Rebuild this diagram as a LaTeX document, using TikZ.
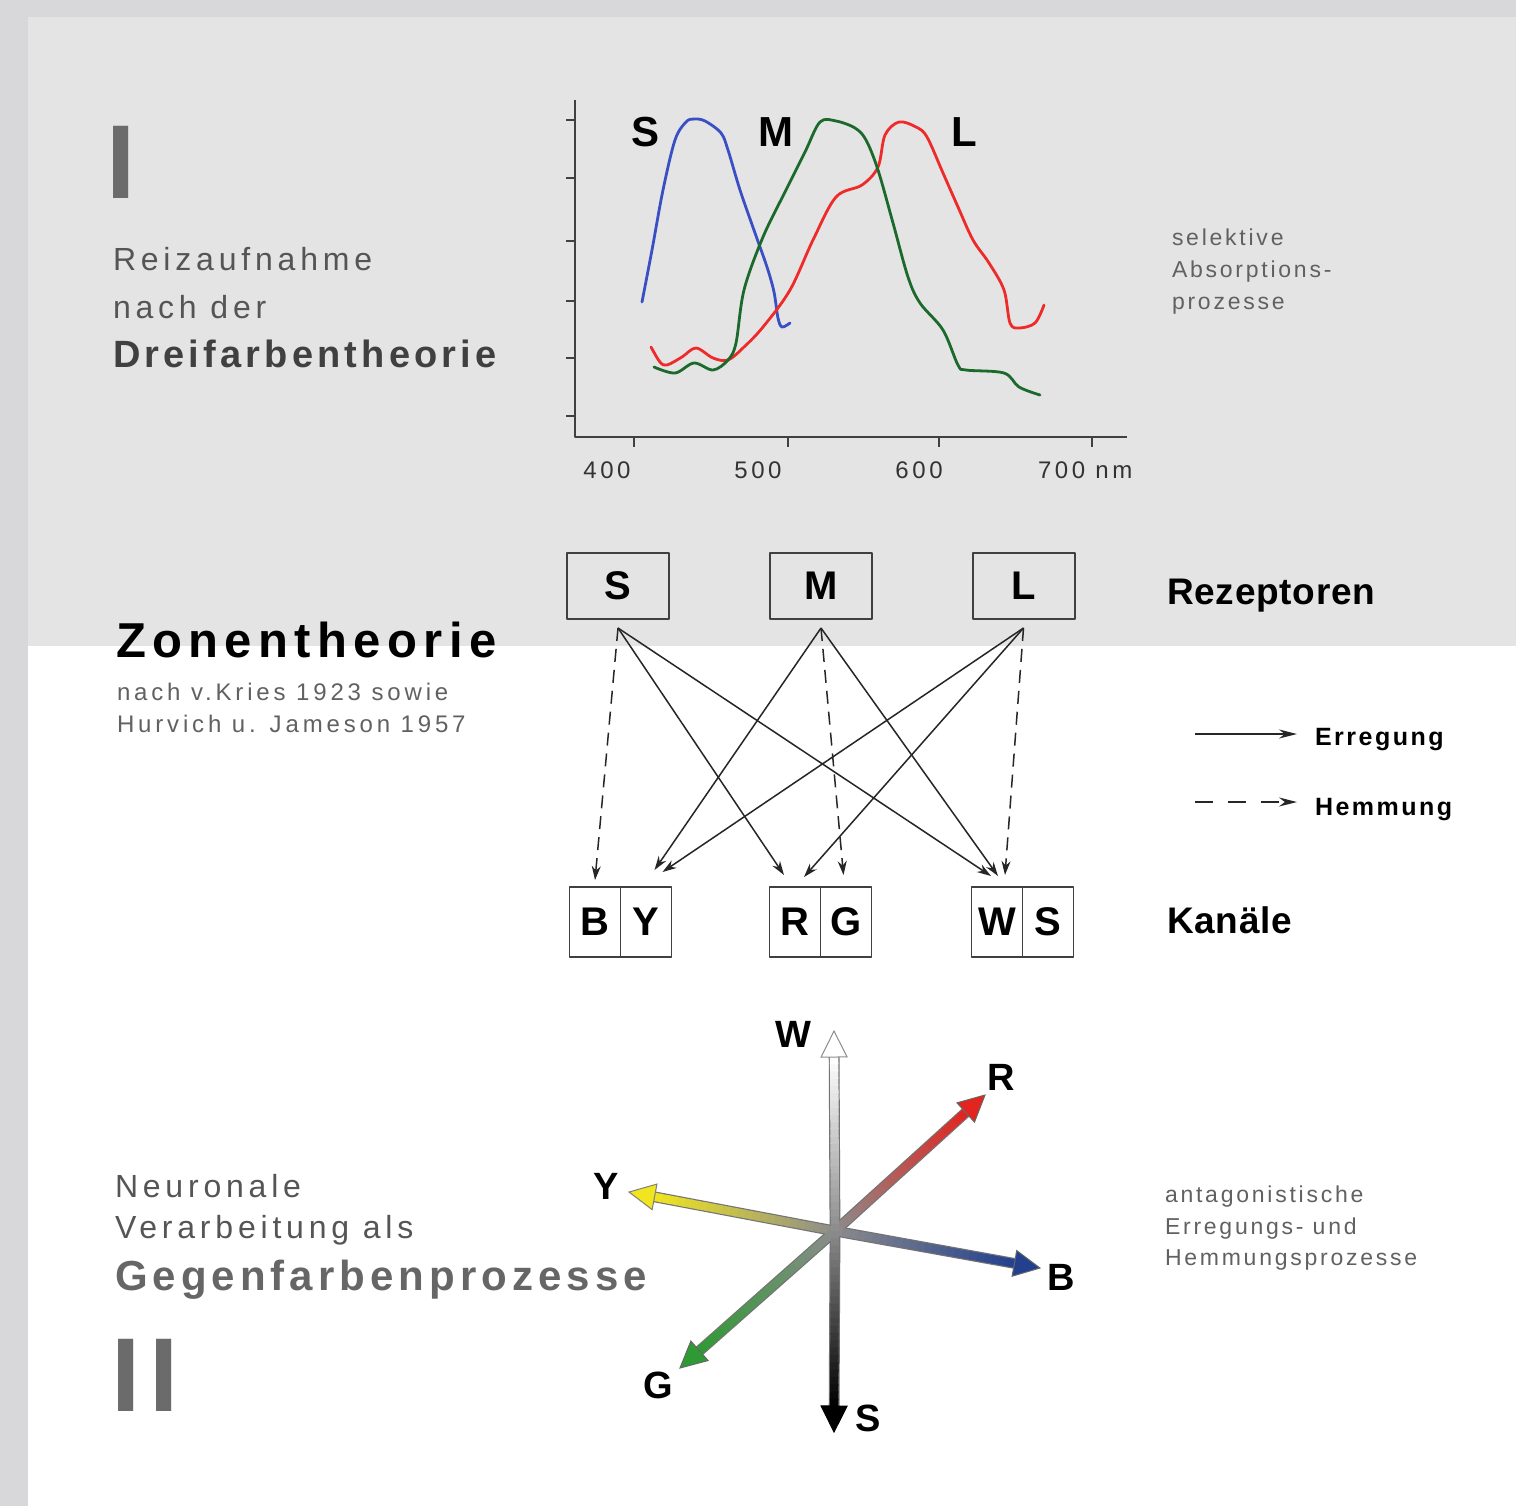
\documentclass[tikz,border=0pt]{standalone}
\usepackage{fontspec}
\setmainfont{Liberation Sans}
\usetikzlibrary{arrows.meta,calc,positioning}
\definecolor{rahmen}{HTML}{D8D8DA}
\definecolor{oben}{HTML}{E4E4E4}
\definecolor{grauschrift}{HTML}{555555}
\definecolor{roemgrau}{HTML}{6B6B6B}
\definecolor{zapfenS}{HTML}{3B4FC4}
\definecolor{zapfenM}{HTML}{1B6A2C}
\definecolor{zapfenL}{HTML}{EE2A2A}
\definecolor{armgrau}{HTML}{8C8C8C}
\definecolor{armrot}{HTML}{E3241F}
\definecolor{armblau}{HTML}{23408E}
\definecolor{armgelb}{HTML}{F0E51E}
\definecolor{armgruen}{HTML}{2E9A33}
\newcommand\fsz[2]{\fontsize{#1}{#1}\selectfont\addfontfeature{LetterSpace=#2}}
\begin{document}
\begin{tikzpicture}[x=0.5pt,y=-0.5pt,line join=round,
  every node/.style={inner sep=0pt,outer sep=0pt},
  roem/.style={font=\bfseries\fsz{52.5}{9},text=roemgrau,anchor=base west},
  leicht/.style={font=\fsz{16}{15},text=grauschrift,anchor=base west},
  titel/.style={font=\bfseries\fsz{19}{11},text=black!75,anchor=base west},
  klein/.style={font=\fsz{12}{16},text=black!62,anchor=base west},
  kleinr/.style={font=\fsz{11.5}{12},text=black!62,anchor=base west},
  fett/.style={font=\bfseries\fsz{18.5}{2},anchor=base west},
  legtxt/.style={font=\bfseries\fsz{12.5}{10},anchor=base west},
  achsentxt/.style={font=\fsz{12}{15},text=black!80,anchor=base},
  kurve/.style={line width=1.4pt,line cap=round},
  achse/.style={line width=0.8pt,black!75},
  rezbox/.style={draw=black!75,fill=oben,line width=1pt,minimum width=51pt,minimum height=33pt,font=\bfseries\fsz{20}{0}},
  kanal/.style={draw=black!75,fill=white,line width=0.8pt,minimum width=25.5pt,minimum height=35pt,font=\bfseries\fsz{20}{0}},
  erreg/.style={-{Stealth[length=7pt,width=4.5pt]},line width=0.75pt,black!85},
  hemm/.style={erreg,dash pattern=on 6.5pt off 4pt},
  armlabel/.style={font=\bfseries\fsz{19}{0}}]
\useasboundingbox (0,0) rectangle (1516,1506);
% Hintergrund
\fill[rahmen] (0,0) rectangle (1516,1506);
\fill[oben] (28,17) rectangle (1516,646);
\fill[white] (28,646) rectangle (1516,1506);

% Teil I
\node[roem] (numI) at (106,198) {I};
\node[leicht] (reiz1) at (113,270) {Reizaufnahme};
\node[leicht] (reiz2) at (113,318) {nach der};
\node[titel] (reiz3) at (113,367) {Dreifarbentheorie};

% Absorptionskurven
\draw[achse] (575,100) -- (575,437) -- (1127,437);
\foreach \y in {120,178,241,301,358,416}
  \draw[achse] (566,\y) -- (575,\y);
\foreach \x in {634,788,939,1092}
  \draw[achse] (\x,437) -- (\x,447);
\foreach \x/\t in {607/400,758/500,919/600}
  \node[achsentxt] (ax\t) at (\x,478) {\t};
\node[achsentxt,anchor=base west] (ax700) at (1038,478) {700 nm};
\draw[kurve,zapfenS] plot[smooth,tension=0.55] coordinates {(642,302) (652,250) (663,190) (675,140) (686,122) (694,119) (705,121) (721,133) (728,150) (740,190) (755,233) (767,267) (774,292) (778,318) (782,327) (790,323)};
\draw[kurve,zapfenL] plot[smooth,tension=0.55] coordinates {(651,347) (660,362) (667,365) (682,357) (696,348) (713,358) (728,360) (744,347) (763,327) (790,290) (813,240) (836,197) (862,185) (878,167) (885,135) (899,122) (916,127) (927,137) (943,173) (958,207) (973,240) (989,263) (1004,290) (1010,323) (1019,328) (1035,323) (1044,305)};
\draw[kurve,zapfenM] plot[smooth,tension=0.55] coordinates {(654,367) (675,373) (694,363) (713,370) (728,360) (736,343) (744,290) (763,237) (786,190) (805,152) (820,122) (836,121) (855,128) (866,140) (878,170) (893,223) (908,277) (920,303) (943,330) (958,365) (966,370) (1004,373) (1019,387) (1040,395)};
\node[font=\bfseries\fsz{21}{0}] (kS) at (646,132) {S};
\node[font=\bfseries\fsz{21}{0}] (kM) at (776,132) {M};
\node[font=\bfseries\fsz{21}{0}] (kL) at (964,132) {L};
\node[kleinr] (sel1) at (1172,245) {selektive};
\node[kleinr] (sel2) at (1172,277) {Absorptions-};
\node[kleinr] (sel3) at (1172,309) {prozesse};

% Zonentheorie
\node[font=\bfseries\fsz{24.5}{13},anchor=base west] (zone) at (116,657) {Zonentheorie};
\node[klein] (zone1) at (117,700) {nach v.Kries 1923 sowie};
\node[klein] (zone2) at (117,732) {Hurvich u. Jameson 1957};

\node[rezbox] (rS) at (618,586) {S};
\node[rezbox] (rM) at (821,586) {M};
\node[rezbox] (rL) at (1023.5,586) {L};
\node[fett] (rez) at (1167,604) {Rezeptoren};

\node[kanal] (cB) at (595,922) {B};
\node[kanal,right=0pt of cB] (cY) {Y};
\node[kanal] (cR) at (795,922) {R};
\node[kanal,right=0pt of cR] (cG) {G};
\node[kanal] (cW) at (997,922) {W};
\node[kanal,right=0pt of cW] (cS) {S};
\node[fett] (kan) at (1167,933) {Kanäle};

\coordinate (oS) at ([yshift=-4.5pt]rS.south);
\coordinate (oM) at ([yshift=-4.5pt]rM.south);
\coordinate (oL) at ([yshift=-4.5pt]rL.south);
\draw[hemm] (oS) -- ([yshift=3.5pt]cB.north);
\draw[erreg] (oS) -- ([xshift=-5.5pt,yshift=6pt]cR.north);
\draw[erreg] (oS) -- ([xshift=-3pt,yshift=5.5pt]cW.north);
\draw[erreg] (oM) -- ([xshift=4.25pt,yshift=8.5pt]cY.north);
\draw[hemm] (oM) -- ([xshift=-1.25pt,yshift=6pt]cG.north);
\draw[erreg] (oM) -- ([xshift=0.5pt,yshift=5.5pt]cW.north);
\draw[erreg] (oL) -- ([xshift=8.25pt,yshift=7.5pt]cY.north);
\draw[erreg] (oL) -- ([xshift=4.5pt,yshift=5pt]cR.north);
\draw[hemm] (oL) -- ([xshift=4pt,yshift=6pt]cW.north);

% Legende
\coordinate (e0) at (1195,734);
\coordinate (e1) at (1297,734);
\coordinate (h0) at (1195,802);
\coordinate (h1) at (1297,802);
\draw[erreg,-{Stealth[length=9pt,width=4.5pt]}] (e0) -- (e1);
\draw[hemm,dash pattern=on 9pt off 7.5pt,-{Stealth[length=9pt,width=4.5pt]}] (h0) -- (h1);
\node[legtxt] (erl) at (1315,745) {Erregung};
\node[legtxt] (hel) at (1315,815) {Hemmung};

% Teil II
\node[leicht] (neu1) at (115,1197) {Neuronale};
\node[leicht] (neu2) at (115,1238) {Verarbeitung als};
\node[font=\bfseries\fsz{21}{12},text=black!60,anchor=base west] (neu3) at (115,1290) {Gegenfarbenprozesse};
\node[roem] (numII) at (111,1411) {II};
\node[kleinr] (ant1) at (1165,1202) {antagonistische};
\node[kleinr] (ant2) at (1165,1234) {Erregungs- und};
\node[kleinr] (ant3) at (1165,1265) {Hemmungsprozesse};

% Gegenfarbenachsen
\coordinate (C) at (835,1231);
\coordinate (aW) at (834,1031);
\coordinate (aS) at (834,1432);
\coordinate (aR) at (985,1095);
\coordinate (aB) at (1040,1268);
\coordinate (aY) at (629,1192);
\coordinate (aG) at (680,1368);
\foreach \t in {aW,aS,aR,aB,aY,aG}{
  \coordinate (h\t) at ($(\t)!13pt!(C)$);
  \draw[line width=5.4pt,black!55] (C) -- (h\t);
}
\foreach \t/\c in {aY/armgelb,aB/armblau,aG/armgruen,aR/armrot,aW/white,aS/black}
  \foreach \i in {1,...,24}{
    \pgfmathsetmacro\anf{(\i-1)/24}
    \pgfmathsetmacro\ende{min(\i/24+0.01,1)}
    \pgfmathsetmacro\proz{100*(\i-0.5)/24}
    \draw[line width=4.2pt,color=\c!\proz!armgrau] ($(C)!\anf!(h\t)$) -- ($(C)!\ende!(h\t)$);
  }
\foreach \t/\c/\r in {aW/white/black!45,aS/black/black,aR/armrot/black!60,aB/armblau/black!60,aY/armgelb/black!50,aG/armgruen/black!60}
  \filldraw[fill=\c,draw=\r,line width=0.5pt,line join=miter] (\t) -- ($(h\t)!6.5pt!90:(\t)$) -- ($(h\t)!6.5pt!-90:(\t)$) -- cycle;
\node[armlabel] (lW) at (793,1034) {W};
\node[armlabel] (lR) at (1001,1077) {R};
\node[armlabel] (lY) at (606,1186) {Y};
\node[armlabel] (lB) at (1061,1277) {B};
\node[armlabel] (lG) at (658,1385) {G};
\node[armlabel] (lS) at (868,1418) {S};
\end{tikzpicture}
\end{document}
